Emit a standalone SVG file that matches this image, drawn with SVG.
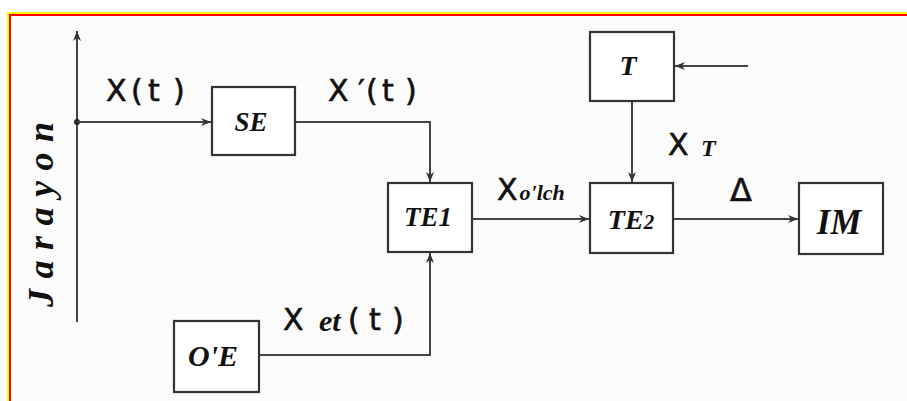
<svg xmlns="http://www.w3.org/2000/svg" width="907" height="401" viewBox="0 0 907 401">
<defs>
<style>
.box{fill:#fff;stroke:#333;stroke-width:2.2}
.ln{fill:none;stroke:#444;stroke-width:2}
.bl{font-family:"Liberation Serif",serif;font-weight:bold;font-style:italic;fill:#111;stroke:none}
.lb{font-family:"DejaVu Sans","Liberation Sans",sans-serif;fill:#111;stroke:#111;stroke-width:0.6}
</style>
<marker id="ar" viewBox="0 0 10 10" refX="10" refY="5" markerWidth="10" markerHeight="10" markerUnits="userSpaceOnUse" orient="auto">
<path d="M0,1 L10,5 L0,9 L3,5 Z" fill="#333"/>
</marker>
</defs>
<rect x="0" y="0" width="907" height="401" fill="#fff"/>
<rect x="10" y="14" width="897" height="387" fill="#fbfbfb"/>
<path d="M8,401 V13 H907" fill="none" stroke="#ffff00" stroke-width="2"/>
<path d="M10,401 V15 H907" fill="none" stroke="#ff0000" stroke-width="2"/>

<g id="connectors">
<line class="ln" x1="77" y1="322" x2="77" y2="31" marker-end="url(#ar)"/>
<circle cx="77" cy="122" r="3" fill="#222"/>
<line class="ln" x1="77" y1="122" x2="211" y2="122" marker-end="url(#ar)"/>
<polyline class="ln" points="295,122 430,122 430,182" marker-end="url(#ar)"/>
<polyline class="ln" points="259,355 430,355 430,253" marker-end="url(#ar)"/>
<line class="ln" x1="472" y1="219" x2="589" y2="219" marker-end="url(#ar)"/>
<line class="ln" x1="632" y1="101" x2="632" y2="182" marker-end="url(#ar)"/>
<line class="ln" x1="748" y1="66" x2="675" y2="66" marker-end="url(#ar)"/>
<line class="ln" x1="673" y1="219" x2="798" y2="219" marker-end="url(#ar)"/>
</g>

<g id="node-SE">
<rect class="box" x="212" y="87" width="83" height="68"/>
<text class="bl" x="251" y="131" font-size="27" text-anchor="middle">SE</text>
</g>
<g id="node-TE1">
<rect class="box" x="388" y="183" width="84" height="69"/>
<text class="bl" x="428" y="226" font-size="27" text-anchor="middle">TE1</text>
</g>
<g id="node-TE2">
<rect class="box" x="590" y="183" width="83" height="70"/>
<text class="bl" x="631" y="229" font-size="28" text-anchor="middle">TE<tspan font-size="21">2</tspan></text>
</g>
<g id="node-T">
<rect class="box" x="590" y="32" width="84" height="69"/>
<text class="bl" x="628" y="75" font-size="28" text-anchor="middle">T</text>
</g>
<g id="node-IM">
<rect class="box" x="799" y="183" width="84" height="71"/>
<text class="bl" x="839" y="234" font-size="35" text-anchor="middle">IM</text>
</g>
<g id="node-OE">
<rect class="box" x="174" y="321" width="85" height="71"/>
<text class="bl" x="213" y="366" font-size="30" text-anchor="middle">O'E</text>
</g>

<g id="labels">
<text class="bl" transform="translate(53,307) rotate(-90)" font-size="36" letter-spacing="10.5">Jarayon</text>
<text class="lb" x="106 131 148 173" y="101" font-size="30">X(t)</text>
<text class="lb" x="328 358 366 382 405" y="101" font-size="30">X′(t)</text>
<text class="lb" x="497" y="200" font-size="30">X<tspan class="bl" font-size="22" dx="2">o'lch</tspan></text>
<text class="lb" x="668" y="155" font-size="30">X</text>
<text class="bl" x="701" y="156" font-size="24">T</text>
<text class="lb" x="730" y="201" font-size="32" stroke-width="1.4">Δ</text>
<text class="lb" x="283" y="330" font-size="30">X</text>
<text class="bl" x="319" y="331" font-size="30">et</text>
<text class="lb" x="348 369 392" y="330" font-size="30">(t)</text>
</g>
</svg>
